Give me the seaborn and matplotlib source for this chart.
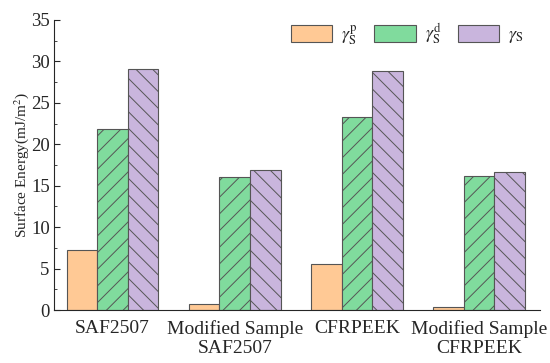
import pandas as pd
import matplotlib
matplotlib.use("Agg")
import matplotlib.pyplot as plt
import seaborn as sns
from matplotlib.ticker import MultipleLocator

samples = ["SAF2507", "Modified Sample\nSAF2507", "CFRPEEK", "Modified Sample\nCFRPEEK"]
gamma_p = [7.2, 0.75, 5.6, 0.4]
gamma_d = [21.8, 16.1, 23.3, 16.2]
gamma_s = [29.1, 16.9, 28.9, 16.7]

labels = [r"$\gamma_{\rm S}^{\rm p}$", r"$\gamma_{\rm S}^{\rm d}$", r"$\gamma_{\rm S}$"]
colors = ["#FFC995", "#80DB9D", "#C9B5DD"]
hatches = ["", "//", "\\\\"]

df = pd.DataFrame({"sample": samples * 3,
                   "energy": gamma_p + gamma_d + gamma_s,
                   "component": [labels[0]] * 4 + [labels[1]] * 4 + [labels[2]] * 4})

sns.set_style("ticks")
plt.rcParams["font.family"] = ["Liberation Serif", "DejaVu Serif"]
plt.rcParams["mathtext.fontset"] = "stix"
plt.rcParams["hatch.linewidth"] = 0.7

fig, ax = plt.subplots(figsize=(5.5, 3.63), dpi=100)
sns.barplot(data=df, x="sample", y="energy", hue="component", palette=colors,
            width=0.75, edgecolor="#555555", linewidth=0.8, saturation=1, ax=ax)

for i, cont in enumerate(ax.containers):
    for bar in cont:
        bar.set_hatch(hatches[i])
for i, h in enumerate(ax.get_legend().legend_handles):
    h.set_hatch(hatches[i])

ax.legend(ncol=3, frameon=False, loc="upper right", bbox_to_anchor=(1.0, 1.05),
          fontsize=13, handlelength=2.3, handleheight=1.1, columnspacing=0.9,
          handletextpad=0.5)

ax.set_ylim(0, 35)
ax.set_xlim(-0.48, 3.5)
ax.yaxis.set_major_locator(MultipleLocator(5))
ax.yaxis.set_minor_locator(MultipleLocator(2.5))
ax.tick_params(axis="y", direction="in", labelsize=13.5, length=4, pad=3)
ax.tick_params(axis="y", which="minor", direction="in", length=2)
ax.tick_params(axis="x", length=0, labelsize=14, pad=7)
ax.set_xlabel("")
ax.set_ylabel("Surface Energy(mJ/m$^2$)", fontsize=11, labelpad=0)
for s in ["top", "right"]:
    ax.spines[s].set_visible(False)

plt.subplots_adjust(left=0.098, right=0.982, top=0.945, bottom=0.146)
plt.savefig("out.png", dpi=100)
